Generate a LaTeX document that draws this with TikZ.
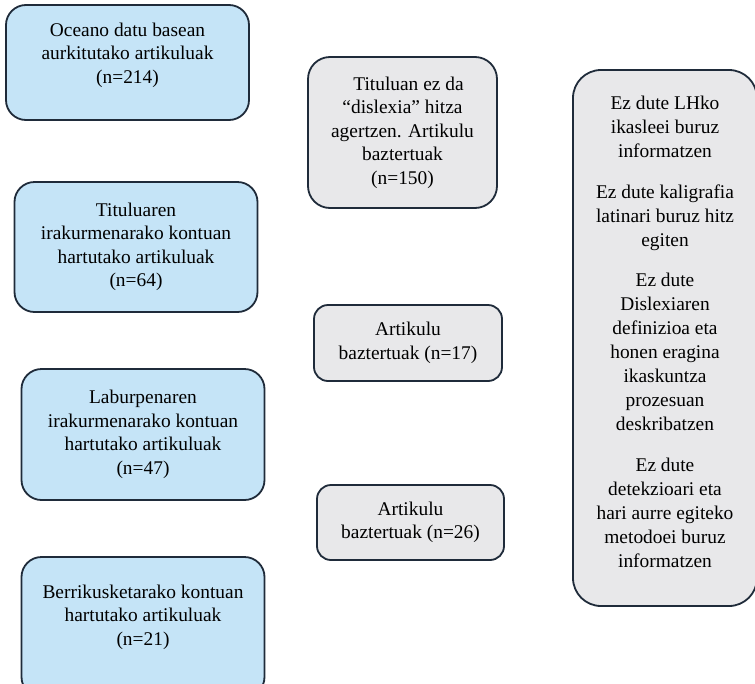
\documentclass[tikz,border=0pt]{standalone}
\usepackage{fontspec}
\setmainfont{Liberation Serif}
\usepackage{tikz}
\definecolor{boxblue}{HTML}{C5E4F7}
\definecolor{boxgray}{HTML}{E8E8EA}
\definecolor{boxline}{HTML}{1F2B3A}
\tikzset{
  box/.style={draw=boxline, line width=1.8pt, align=center, inner sep=0pt,
    font=\fontsize{19.4}{23.5}\selectfont},
  bluebox/.style={box, fill=boxblue, rounded corners=20pt, minimum width=243pt},
  graybox/.style={box, fill=boxgray, rounded corners=14pt}
}
\begin{document}
\begin{tikzpicture}[x=1pt,y=-1pt]
\clip (0,0) rectangle (755,683);
\fill[white] (0,0) rectangle (755,683);
% left column
\node[bluebox, minimum height=115pt] (oceano) at (127.5,62.5) {Oceano datu basean\\ aurkitutako artikuluak\\ (n=214)\\[-4.5pt]\mbox{}};
\node[bluebox, minimum height=130pt] (titulua) at (136,247) {Tituluaren\\ irakurmenarako kontuan\\ hartutako artikuluak\\ (n=64)};
\node[bluebox, minimum height=131pt] (laburpena) at (143,434.5) {Laburpenaren\\ irakurmenarako kontuan\\ hartutako artikuluak\\ (n=47)};
\node[bluebox, minimum height=140pt] (berrikus) at (143,627) {Berrikusketarako kontuan\\ hartutako artikuluak\\ (n=21)\\ \mbox{}};
% middle column
\node[graybox, rounded corners=22pt, minimum width=189pt, minimum height=151pt] (baztA) at (402.5,132.5) {\hspace*{12pt}Tituluan ez da\\ “dislexia” hitza\\ agertzen. Artikulu\\ baztertuak\\ (n=150)};
\node[graybox, minimum width=188pt, minimum height=76pt] (baztB) at (408,343) {Artikulu\\ baztertuak (n=17)};
\node[graybox, minimum width=187pt, minimum height=75pt] (baztC) at (410.5,522.5) {Artikulu\\ baztertuak (n=26)};
% right column
\node[graybox, rounded corners=28pt, minimum width=184pt, minimum height=536pt,
  font=\fontsize{19.4}{24}\selectfont] (irizpideak) at (665,338) {Ez dute LHko\\ ikasleei buruz\\ informatzen\\[16.5pt]
Ez dute kaligrafia\\ latinari buruz hitz\\ egiten\\[16.5pt]
Ez dute\\ Dislexiaren\\ definizioa eta\\ honen eragina\\ ikaskuntza\\ prozesuan\\ deskribatzen\\[16.5pt]
Ez dute\\ detekzioari eta\\ hari aurre egiteko\\ metodoei buruz\\ informatzen\\[-11.5pt]\mbox{}};
\end{tikzpicture}
\end{document}
